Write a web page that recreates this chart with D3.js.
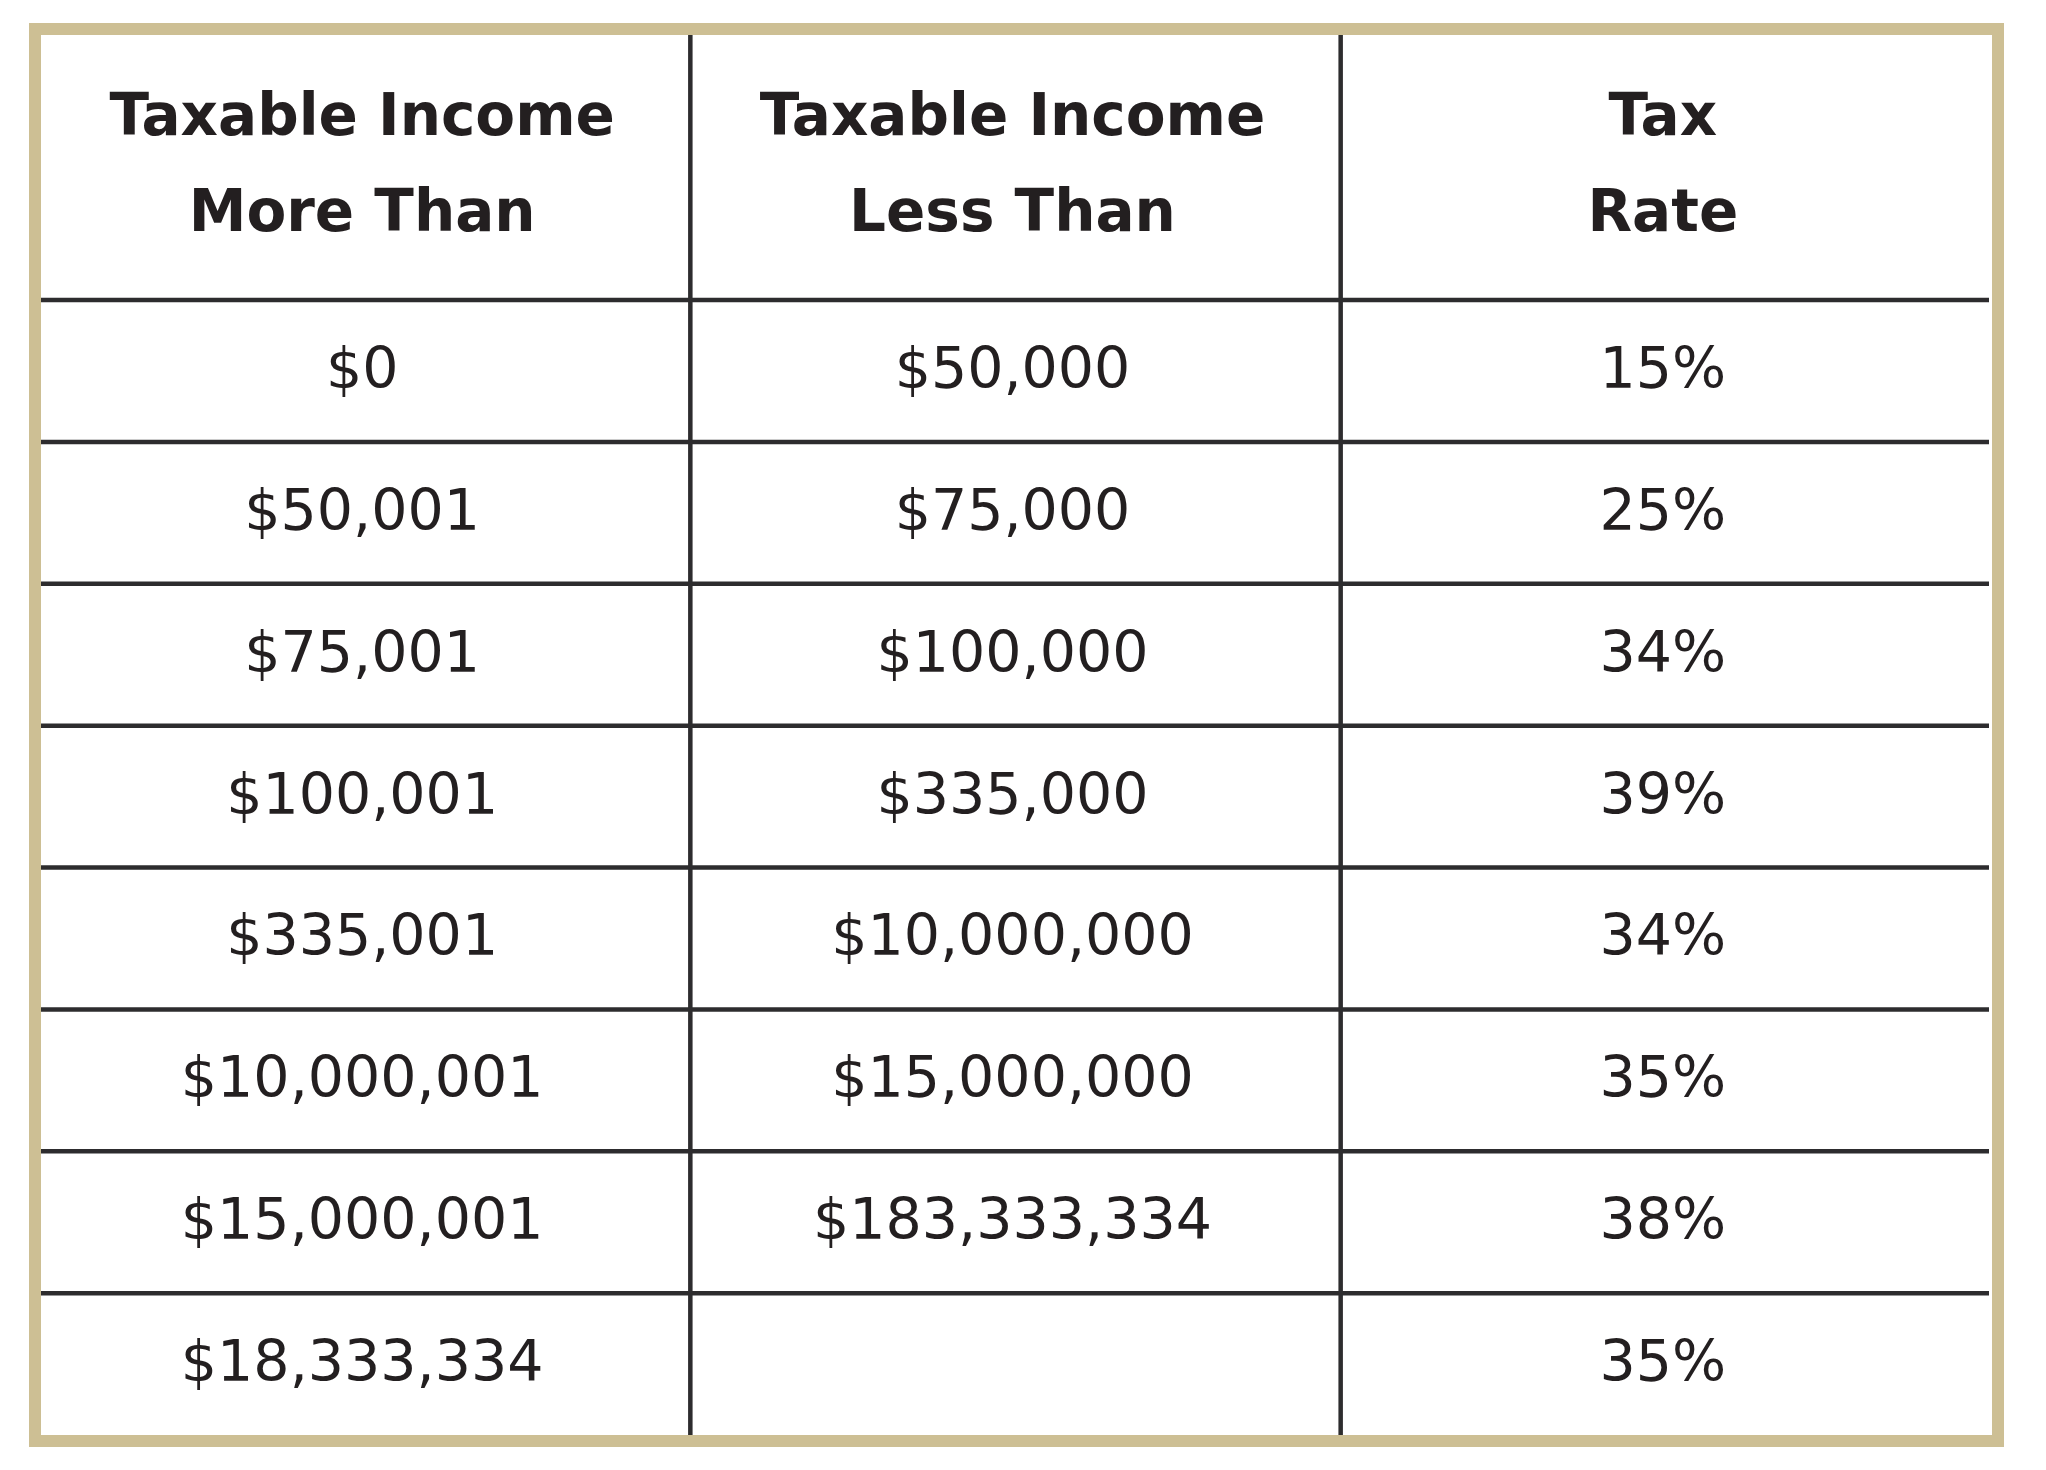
<!DOCTYPE html>
<meta charset="utf-8">
<title>Tax rate table</title>
<style>
body { margin: 0; background: #fff; }
text { font-family: Verdana, "DejaVu Sans", sans-serif; fill: #231f20; text-anchor: middle; }
.head text { font-weight: bold; font-size: 58px; }
.cell text { font-size: 57px; }
.grid line { stroke: #2d2c2e; stroke-width: 4.5px; }
</style>
<svg width="2046" height="1470"></svg>
<script src="https://d3js.org/d3.v7.min.js"></script>
<script>

// table contents
var headers = [["Taxable Income", "More Than"], ["Taxable Income", "Less Than"], ["Tax", "Rate"]];
var moreThan = ["$0", "$50,001", "$75,001", "$100,001", "$335,001", "$10,000,001", "$15,000,001", "$18,333,334"];
var lessThan = ["$50,000", "$75,000", "$100,000", "$335,000", "$10,000,000", "$15,000,000", "$183,333,334", ""];
var taxRate  = ["15%", "25%", "34%", "39%", "34%", "35%", "38%", "35%"];

var svg = d3.select("svg");

var leftX = 41, rightX = 1992, topY = 35, bottomY = 1435, headBottom = 300;

var x = d3.scaleBand().domain(d3.range(headers.length)).range([leftX, rightX]);
var y = d3.scaleBand().domain(d3.range(moreThan.length)).range([headBottom, bottomY]);

var columns = [moreThan, lessThan, taxRate];

// grid lines
var grid = svg.append("g").attr("class", "grid");
grid.selectAll(".v")
  .data(d3.range(1, headers.length))
  .enter().append("line")
  .attr("x1", function(d) { return x(d) - 1; })
  .attr("x2", function(d) { return x(d) - 1; })
  .attr("y1", topY)
  .attr("y2", bottomY);
grid.selectAll(".h")
  .data(d3.range(moreThan.length))
  .enter().append("line")
  .attr("x1", leftX)
  .attr("x2", rightX - 3)
  .attr("y1", function(d) { return y(d); })
  .attr("y2", function(d) { return y(d); });

// header
var head = svg.append("g").attr("class", "head");
head.selectAll("text")
  .data(headers)
  .enter().append("text")
  .each(function(d, i) {
    var cx = x(i) + x.bandwidth() / 2 - 4;
    d3.select(this).selectAll("tspan")
      .data(d)
      .enter().append("tspan")
      .attr("x", cx)
      .attr("y", function(t, j) { return topY + 100 + j * 96; })
      .text(function(t) { return t; });
  });

// body cells
var cell = svg.append("g").attr("class", "cell");
columns.forEach(function(col, ci) {
  cell.selectAll(".c" + ci)
    .data(col)
    .enter().append("text")
    .attr("class", "c" + ci)
    .attr("x", x(ci) + x.bandwidth() / 2 - 4)
    .attr("y", function(d, i) { return y(i) + y.bandwidth() / 2 + 17; })
    .text(function(d) { return d; });
});

// outer frame
svg.append("rect")
  .attr("x", 35).attr("y", 29)
  .attr("width", 1963).attr("height", 1412)
  .attr("fill", "none")
  .attr("stroke", "#cdbf94")
  .attr("stroke-width", 12);

</script>
